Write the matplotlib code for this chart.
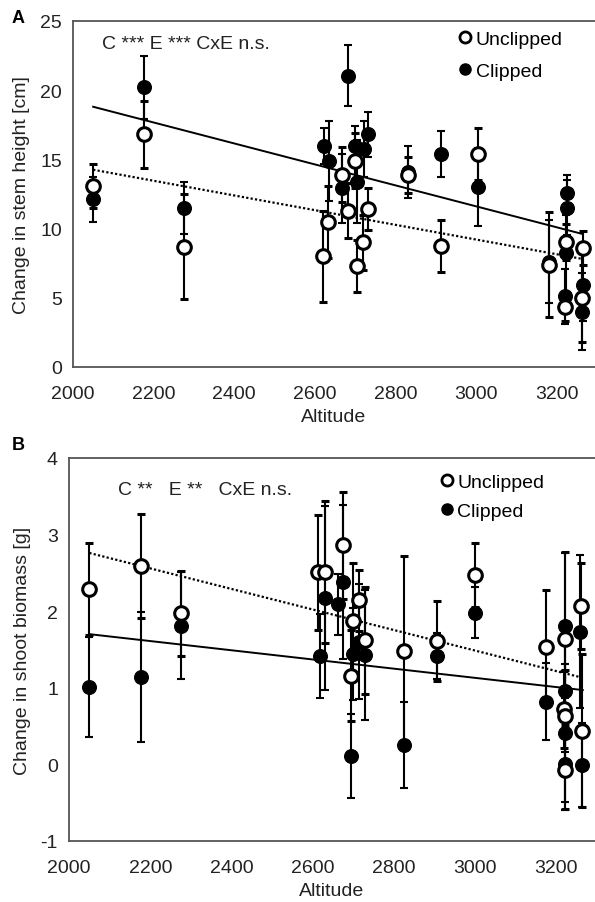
import numpy as np
import matplotlib
matplotlib.use("Agg")
from matplotlib import pyplot as plt
from matplotlib.lines import Line2D

plt.rcParams['font.family'] = ['Liberation Sans', 'DejaVu Sans']
plt.rcParams['axes.unicode_minus'] = False

# Panel A - change in stem height [cm]
a_uncl_x = [2050, 2175, 2275, 2620, 2633, 2667, 2682, 2700, 2704, 2720, 2733, 2831, 2913, 3005, 3181, 3222, 3220, 3265, 3263]
a_uncl_y = [13.1, 16.8, 8.7, 8.0, 10.5, 13.9, 11.3, 14.9, 7.3, 9.0, 11.4, 13.9, 8.75, 15.4, 7.4, 9.0, 4.3, 8.6, 5.0]
a_uncl_e = [1.6, 2.4, 3.8, 3.3, 2.6, 2.0, 2.0, 2.0, 1.9, 2.0, 1.5, 1.3, 1.9, 1.9, 3.8, 1.3, 1.0, 1.2, 3.2]

a_clip_x = [2050, 2175, 2275, 2623, 2635, 2667, 2682, 2700, 2704, 2723, 2733, 2831, 2913, 3005, 3181, 3226, 3226, 3222, 3220, 3265, 3263]
a_clip_y = [12.1, 20.2, 11.5, 16.0, 14.9, 12.9, 21.05, 16.0, 13.4, 15.75, 16.8, 14.1, 15.4, 13.0, 7.6, 12.6, 11.5, 8.2, 5.1, 5.9, 4.0]
a_clip_e = [1.6, 2.3, 1.9, 1.3, 2.9, 2.5, 2.2, 1.4, 3.0, 2.0, 1.6, 1.9, 1.65, 2.8, 3.0, 1.3, 2.0, 2.8, 2.0, 2.6, 2.8]

# Panel B - change in shoot biomass [g]
b_uncl_x = [2049, 2177, 2276, 2613, 2630, 2675, 2695, 2699, 2714, 2729, 2825, 2907, 3000, 3175, 3222, 3219, 3222, 3222, 3261, 3263]
b_uncl_y = [2.29, 2.59, 1.97, 2.51, 2.51, 2.86, 1.16, 1.87, 2.14, 1.62, 1.48, 1.61, 2.47, 1.53, 1.64, 0.72, 0.63, -0.08, 2.07, 0.44]
b_uncl_e = [0.6, 0.68, 0.55, 0.75, 0.93, 0.7, 0.6, 0.76, 0.4, 0.7, 1.24, 0.52, 0.42, 0.75, 1.13, 0.5, 0.6, 0.5, 0.56, 1.0]

b_clip_x = [2049, 2177, 2276, 2618, 2630, 2663, 2675, 2695, 2699, 2714, 2729, 2825, 2907, 3000, 3175, 3222, 3222, 3222, 3220, 3258, 3263]
b_clip_y = [1.01, 1.14, 1.81, 1.41, 2.17, 2.09, 2.38, 0.11, 1.44, 1.60, 1.43, 0.25, 1.42, 1.98, 0.82, 1.81, 0.96, 0.41, 0.00, 1.73, -0.01]
b_clip_e = [0.65, 0.85, 0.7, 0.55, 1.2, 0.4, 1.0, 0.55, 0.6, 0.75, 0.85, 0.56, 0.3, 0.33, 0.5, 0.95, 0.8, 0.9, 0.6, 1.0, 0.55]

# regression lines (end points)
trend_x = [2050, 3265]
a_trend_clip = [18.8, 9.6]
a_trend_uncl = [14.25, 7.8]
b_trend_clip = [1.70, 0.97]
b_trend_uncl = [2.76, 1.13]

FS = 14
TXT = '#222222'

fig = plt.figure(figsize=(5.95, 9.03), dpi=100)
axA = fig.add_axes([0.1227, 0.5925, 0.8773, 0.3832])
axB = fig.add_axes([0.116, 0.0676, 0.884, 0.4241])


def draw_panel(ax, ux, uy, ue, cx, cy, ce, tc, tu, leg_anchor, spacing):
    ax.plot(trend_x, tc, color='black', lw=1.4, zorder=2)
    ax.plot(trend_x, tu, color='black', lw=1.6, ls=(0, (1, 1)), zorder=2)
    ax.errorbar(cx, cy, yerr=ce, fmt='o', ms=9.8, mfc='black', mec='black',
                ecolor='black', elinewidth=1.5, capsize=2.8, capthick=1.5, zorder=3)
    ax.errorbar(ux, uy, yerr=ue, fmt='o', ms=9.8, mfc='white', mec='black', mew=2.2,
                ecolor='black', elinewidth=1.5, capsize=2.8, capthick=1.5, zorder=4)
    ax.set_xlim(2000, 3295)
    ax.set_xticks([2000, 2200, 2400, 2600, 2800, 3000, 3200])
    ax.spines['right'].set_visible(False)
    for s in ['left', 'bottom', 'top']:
        ax.spines[s].set_color('#555555')
        ax.spines[s].set_linewidth(1.3)
    ax.tick_params(length=0, labelsize=FS, colors=TXT)
    ax.tick_params(axis='x', pad=13)
    ax.tick_params(axis='y', pad=8)
    ax.set_xlabel('Altitude', fontsize=FS, labelpad=4, color=TXT)
    handles = [Line2D([], [], ls='none', marker='o', ms=8, mfc='white', mec='black', mew=2),
               Line2D([], [], ls='none', marker='o', ms=8, mfc='black', mec='black')]
    ax.legend(handles, ['Unclipped', 'Clipped'], loc='upper left', bbox_to_anchor=leg_anchor,
              frameon=False, fontsize=FS, handlelength=0.8, handletextpad=0.15,
              labelspacing=spacing, borderaxespad=0, borderpad=0)


draw_panel(axA, a_uncl_x, a_uncl_y, a_uncl_e, a_clip_x, a_clip_y, a_clip_e,
           a_trend_clip, a_trend_uncl, (0.736, 0.974), 0.75)
axA.set_ylim(0, 25)
axA.set_yticks([0, 5, 10, 15, 20, 25])
axA.set_ylabel('Change in stem height [cm]', fontsize=FS, labelpad=7, color=TXT)
axA.text(0.056, 0.936, 'C *** E *** CxE n.s.', transform=axA.transAxes,
         fontsize=FS, color=TXT, va='center')

draw_panel(axB, b_uncl_x, b_uncl_y, b_uncl_e, b_clip_x, b_clip_y, b_clip_e,
           b_trend_clip, b_trend_uncl, (0.703, 0.960), 0.6)
axB.set_ylim(-1, 4)
axB.set_yticks([-1, 0, 1, 2, 3, 4])
axB.set_ylabel('Change in shoot biomass [g]', fontsize=FS, labelpad=7, color=TXT)
axB.text(0.093, 0.919, 'C **   E **   CxE n.s.', transform=axB.transAxes,
         fontsize=FS, color=TXT, va='center')

fig.text(0.02, 0.98, 'A', fontsize=13, fontweight='bold', va='center')
fig.text(0.02, 0.507, 'B', fontsize=13, fontweight='bold', va='center')

fig.savefig('out.png', dpi=100)
